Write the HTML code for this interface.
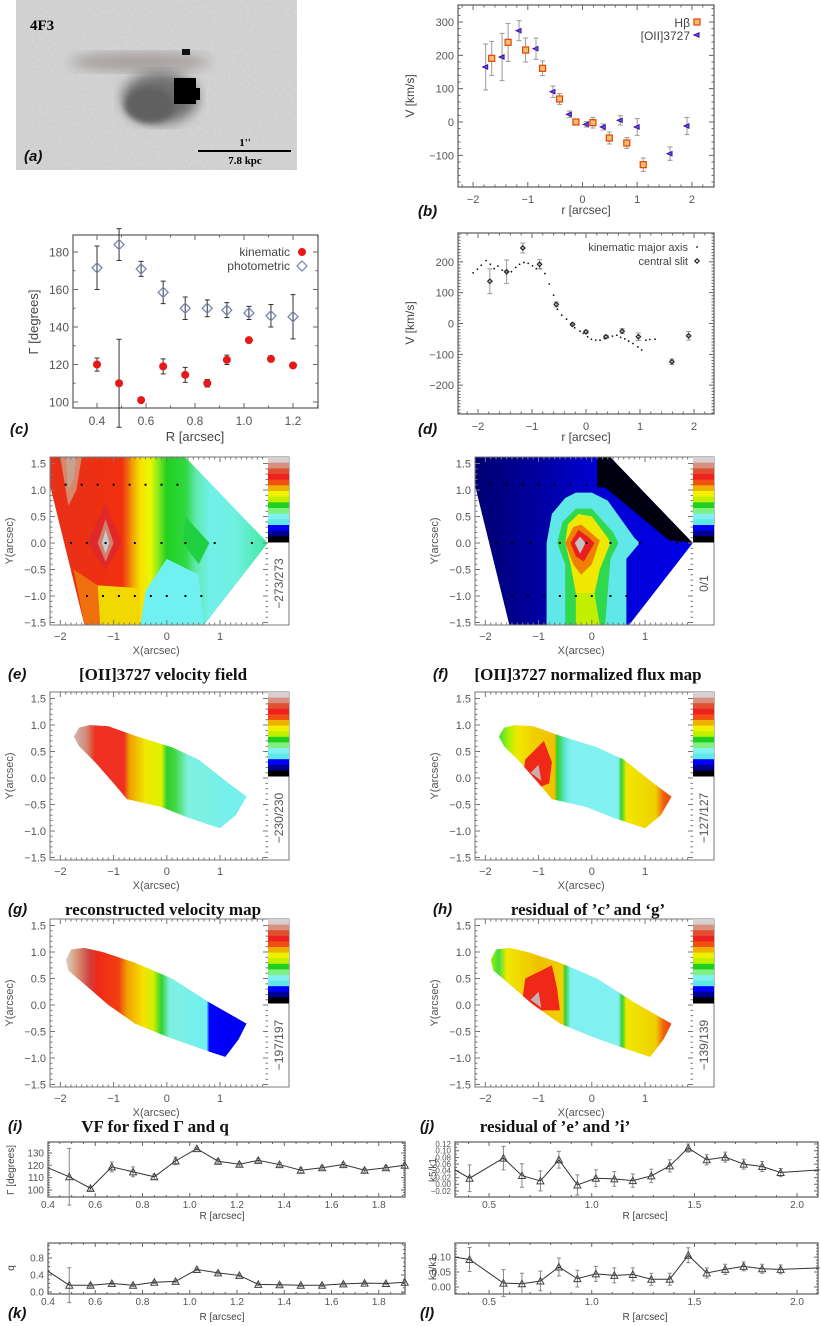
<!DOCTYPE html>
<html><head><meta charset="utf-8"><title>4F3 kinematics</title>
<style>
html,body{margin:0;padding:0;background:#fff;}
svg{display:block;}
text{font-family:"Liberation Sans",sans-serif;}
.tk{font-size:11px;fill:#555;}
.lab{font-size:12px;fill:#444;}
.pl{font-size:15px;font-weight:bold;font-style:italic;fill:#111;}
.ttl{font-family:"Liberation Serif",serif;font-size:17px;font-weight:bold;fill:#111;}
</style></head>
<body>
<svg id="fig" width="821" height="1326" viewBox="0 0 821 1326" xmlns="http://www.w3.org/2000/svg">
<defs>
<filter id="noise" x="0" y="0" width="100%" height="100%"><feTurbulence type="fractalNoise" baseFrequency="0.35" numOctaves="1" seed="3"/><feColorMatrix type="matrix" values="0 0 0 0 0.8  0 0 0 0 0.8  0 0 0 0 0.8  0 0 0 -0.9 0.55"/></filter>
<filter id="blur3"><feGaussianBlur stdDeviation="3"/></filter>
<filter id="blur6"><feGaussianBlur stdDeviation="6"/></filter>
</defs>
<g id="panel-a">
<rect x="16" y="0" width="281" height="170" fill="#d0d0d0"/>
<rect x="16" y="0" width="281" height="170" filter="url(#noise)" opacity="0.6"/>
<g>
<ellipse cx="140" cy="62" rx="70" ry="10" fill="#a8a0a0" filter="url(#blur6)"/>
<ellipse cx="160" cy="98" rx="38" ry="26" fill="#707070" filter="url(#blur6)"/>
<ellipse cx="150" cy="105" rx="25" ry="18" fill="#606060" filter="url(#blur3)"/>
<rect x="174" y="78" width="22" height="26" fill="#000"/>
<rect x="190" y="88" width="10" height="12" fill="#000"/>
<rect x="182" y="49" width="8" height="6" fill="#111"/>
</g>
<text x="30" y="30" style="font-family:'Liberation Serif',serif;font-weight:bold;font-size:15px;">4F3</text>
<text class="pl" x="24" y="161">(a)</text>
<line x1="198" y1="151" x2="291" y2="151" stroke="#000" stroke-width="2"/>
<text x="245" y="146" text-anchor="middle" style="font-family:'Liberation Serif',serif;font-weight:bold;font-size:11px;">1''</text>
<text x="245" y="164" text-anchor="middle" style="font-family:'Liberation Serif',serif;font-weight:bold;font-size:11px;">7.8 kpc</text>
</g>
</svg>
<script>
// ---------- data: panel (b) ----------
const hbR=[-1.66,-1.36,-1.04,-0.73,-0.42,-0.12,0.19,0.49,0.81,1.11];
const hbV=[191,239,216,161,69,0,-2,-48,-63,-128];
const hbE=[51,57,36,22,16,3,16,18,16,20];
const oiiR=[-1.77,-1.47,-1.16,-0.85,-0.54,-0.24,0.07,0.38,0.69,1.0,1.6,1.91];
const oiiV=[165,195,274,220,91,23,-7,-15,5,-15,-95,-12];
const oiiE=[69,71,30,32,17,10,8,9,14,25,20,26];
// ---------- data: panel (c) ----------
const cR=[0.4,0.49,0.58,0.67,0.76,0.85,0.93,1.02,1.11,1.2];
const photG=[171.6,184,171,158.5,150,150,149,147.5,146,145.5];
const photE=[11.6,8.5,4,6,6,4.5,4,3.5,6,11.8];
const kinG=[120,110,101,119,114.5,110,122.5,133,123,119.5];
const kinE=[3.5,23.5,1,4,4,2,2.5,1,1.5,1];
// ---------- data: panel (d) ----------
const majR=[-2.09,-2.01,-1.94,-1.85,-1.77,-1.70,-1.63,-1.55,-1.47,-1.38,-1.30,-1.23,-1.15,-1.07,-0.99,-0.92,-0.84,-0.76,-0.68,-0.60,-0.53,-0.45,-0.36,-0.28,-0.21,-0.11,-0.05,0.03,0.10,0.18,0.26,0.34,0.41,0.49,0.57,0.64,0.72,0.79,0.87,0.96,1.03,1.11,1.18,1.28];
const majV=[164,176,189,204,192,178,186,173,168,168,182,192,198,195,187,178,178,162,128,92,46,27,14,-2,-14,-25,-32,-43,-51,-54,-54,-49,-46,-41,-38,-45,-50,-57,-65,-76,-86,-54,-52,-51];
const slitR=[-1.78,-1.47,-1.17,-0.86,-0.55,-0.25,0,0.37,0.67,0.97,1.59,1.9];
const slitV=[137,168,245,192,62,-3,-27,-43,-25,-43,-124,-40];
const slitE=[40,38,16,15,8,4,5,4,8,12,9,14];
// ---------- data: panels (i),(k) ----------
const harmR=[0.4,0.49,0.58,0.67,0.76,0.85,0.94,1.03,1.12,1.21,1.29,1.38,1.47,1.56,1.65,1.74,1.83,1.91];
const pa=[118,110.7,101.3,118.7,114.7,110.7,123.6,133.5,123.3,120.9,124,120.6,116,118,120.6,116,118,120];
const paE=[0,23,1.5,4,4,2,3,1,1.5,1.5,1.5,1.5,2,1.5,1.5,1.5,1.5,0];
const qv=[0.49,0.16,0.16,0.2,0.16,0.23,0.25,0.53,0.45,0.39,0.18,0.17,0.16,0.16,0.19,0.21,0.2,0.23];
const qE=[0,0.41,0.04,0.03,0.03,0.03,0.03,0.03,0.03,0.03,0.03,0.03,0.03,0.03,0.03,0.03,0.03,0];
// ---------- data: panels (j),(l) ----------
const kR=[0.334,0.405,0.57,0.66,0.75,0.84,0.93,1.02,1.11,1.20,1.29,1.38,1.47,1.56,1.65,1.74,1.83,1.92,2.11];
const k5=[0.043,0.018,0.078,0.026,0.01,0.073,-0.002,0.018,0.016,0.011,0.025,0.055,0.108,0.073,0.081,0.06,0.053,0.035,0.043];
const k5E=[0,0.04,0.035,0.035,0.03,0.025,0.03,0.025,0.022,0.02,0.02,0.018,0.012,0.015,0.015,0.015,0.015,0.012,0];
const k3=[0.1,0.092,0.013,0.011,0.02,0.067,0.028,0.044,0.039,0.042,0.026,0.026,0.106,0.047,0.059,0.069,0.061,0.059,0.064];
const k3E=[0,0.04,0.045,0.035,0.033,0.03,0.028,0.025,0.025,0.022,0.02,0.02,0.025,0.017,0.017,0.015,0.015,0.015,0];

const NS="http://www.w3.org/2000/svg";
const svg=document.getElementById('fig');
function mk(tag,name,parent){
  const e=document.createElementNS(NS,tag);
  
  
  (parent||svg).appendChild(e);
  return e;
}
function txt(s,x,y,cls,name,anchor,rot){
  const t=mk('text',name);
  t.setAttribute('x',x);t.setAttribute('y',y);
  if(cls)t.setAttribute('class',cls);
  if(anchor)t.setAttribute('text-anchor',anchor);
  if(rot)t.setAttribute('transform','rotate('+rot+' '+x+' '+y+')');
  t.textContent=s;
  return t;
}
function scale(d0,d1,p0,p1){return v=>p0+(v-d0)*(p1-p0)/(d1-d0);}
function fmt(v,dec){return (v<0?'\u2212':'')+Math.abs(v).toFixed(dec);}

function axes(o){
  const X=scale(o.xd[0],o.xd[1],o.px[0],o.px[1]);
  const Y=scale(o.yd[0],o.yd[1],o.py[1],o.py[0]);
  const g=mk('g',o.name);
  const box=mk('rect',o.name+'-frame',g);
  box.setAttribute('x',o.px[0]);box.setAttribute('y',o.py[0]);
  box.setAttribute('width',o.px[1]-o.px[0]);box.setAttribute('height',o.py[1]-o.py[0]);
  box.setAttribute('fill','none');box.setAttribute('stroke','#666');box.setAttribute('stroke-width','1.3');
  let p='';
  const ml=o.major||5, mn=o.minorLen||2.5;
  for(const t of o.xt){const x=X(t);p+=`M${x} ${o.py[1]}v${-ml}M${x} ${o.py[0]}v${ml}`;}
  for(const t of o.yt){const y=Y(t);p+=`M${o.px[0]} ${y}h${ml}M${o.px[1]} ${y}h${-ml}`;}
  const xs=(o.xt[1]-o.xt[0])/o.xm;
  for(let v=o.xt[0]-xs*Math.ceil((o.xt[0]-o.xd[0])/xs);v<=o.xd[1];v+=xs){if(v<o.xd[0])continue;const x=X(v);p+=`M${x} ${o.py[1]}v${-mn}M${x} ${o.py[0]}v${mn}`;}
  const ys=(o.yt[1]-o.yt[0])/o.ym;
  for(let v=o.yt[0]-ys*Math.ceil((o.yt[0]-o.yd[0])/ys);v<=o.yd[1];v+=ys){if(v<o.yd[0])continue;const y=Y(v);p+=`M${o.px[0]} ${y}h${mn}M${o.px[1]} ${y}h${-mn}`;}
  const tk=mk('path',o.name+'-ticks',g);tk.setAttribute('d',p);tk.setAttribute('stroke','#666');tk.setAttribute('fill','none');
  const fs=o.fs||11;
  const xoff=o.xoff!==undefined?o.xoff:fs+5;
  for(const t of o.xt){const l=txt(fmt(t,o.xdec),X(t),o.py[1]+xoff,'tk','x-tick-label','middle');l.style.fontSize=fs+'px';}
  for(const t of o.yt){const l=txt(fmt(t,o.ydec),o.px[0]-4,Y(t)+(o.yfs||fs)*0.36,'tk','y-tick-label','end');l.style.fontSize=(o.yfs||fs)+'px';}
  return {X,Y,g};
}
function errbar(X,Y,x,y,e,col,name,cap){
  if(!e)return;
  const l=mk('path',name);
  const c=cap||2.5;
  l.setAttribute('d',`M${X(x)} ${Y(y-e)}V${Y(y+e)}M${X(x)-c} ${Y(y-e)}h${2*c}M${X(x)-c} ${Y(y+e)}h${2*c}`);
  l.setAttribute('stroke',col);l.setAttribute('stroke-width','1');l.setAttribute('fill','none');
}
function sq(x,y,name){const r=mk('rect',name);r.setAttribute('x',x-3);r.setAttribute('y',y-3);r.setAttribute('width',6);r.setAttribute('height',6);r.setAttribute('fill','#f0c070');r.setAttribute('stroke','#e84000');r.setAttribute('stroke-width','1.2');}
function tri(x,y,name){const r=mk('path',name);r.setAttribute('d',`M${x-3} ${y}L${x+2} ${y-2.2}L${x+2} ${y+2.2}Z`);r.setAttribute('fill','#6050f0');r.setAttribute('stroke','#4010a0');r.setAttribute('stroke-width','1');}
function dia(x,y,s,col,name,sw){const r=mk('path',name);r.setAttribute('d',`M${x} ${y-s}L${x+s} ${y}L${x} ${y+s}L${x-s} ${y}Z`);r.setAttribute('fill','none');r.setAttribute('stroke',col);r.setAttribute('stroke-width',sw||1);}
function dot(x,y,r,col,name){const c=mk('circle',name);c.setAttribute('cx',x);c.setAttribute('cy',y);c.setAttribute('r',r);c.setAttribute('fill',col);}

// ----- panel b -----
{
  const a=axes({name:'panel-b-rotation-curve',px:[458,714],py:[5,187],xd:[-2.276,2.404],yd:[-195,351],xt:[-2,-1,0,1,2],yt:[-100,0,100,200,300],xm:5,ym:5,xdec:0,ydec:0});
  hbR.forEach((r,i)=>errbar(a.X,a.Y,r,hbV[i],hbE[i],'#999','hbeta-error-bar'));
  oiiR.forEach((r,i)=>errbar(a.X,a.Y,r,oiiV[i],oiiE[i],'#999','oii-error-bar'));
  hbR.forEach((r,i)=>sq(a.X(r),a.Y(hbV[i]),'hbeta-point'));
  oiiR.forEach((r,i)=>tri(a.X(r),a.Y(oiiV[i]),'oii-point'));
  txt('H\u03B2',690,27,'lab','legend-hbeta-label','end');
  sq(697,22,'legend-hbeta-marker');
  txt('[OII]3727',690,40,'lab','legend-oii-label','end');
  tri(697,35,'legend-oii-marker');
  txt('V [km/s]',414,96,'lab','y-axis-title-b','middle',-90);
  txt('r [arcsec]',586,214,'lab','x-axis-title-b','middle');
  txt('(b)',418,216,'pl','panel-label-b');
}
// ----- panel c -----
{
  const a=axes({name:'panel-c-position-angle',px:[73,318],py:[235,408],xd:[0.302,1.302],yd:[96.8,189.1],xt:[0.4,0.6,0.8,1.0,1.2],yt:[100,120,140,160,180],xm:2,ym:2,xdec:1,ydec:0,fs:12});
  cR.forEach((r,i)=>errbar(a.X,a.Y,r,photG[i],photE[i],'#333','photometric-error-bar'));
  cR.forEach((r,i)=>errbar(a.X,a.Y,r,kinG[i],kinE[i],'#333','kinematic-error-bar'));
  cR.forEach((r,i)=>dia(a.X(r),a.Y(photG[i]),5,'#7080b0','photometric-point',1.2));
  cR.forEach((r,i)=>dot(a.X(r),a.Y(kinG[i]),4,'#e81818','kinematic-point'));
  txt('kinematic',290,256,'lab','legend-kinematic-label','end');
  dot(302,252,4,'#e81818','legend-kinematic-marker');
  txt('photometric',290,270,'lab','legend-photometric-label','end');
  dia(302,266,5,'#7080b0','legend-photometric-marker',1.2);
  txt('\u0393 [degrees]',38,322,'lab','y-axis-title-c','middle',-90).style.fontSize='13px';
  txt('R [arcsec]',195,441,'lab','x-axis-title-c','middle').style.fontSize='13px';
  txt('(c)',10,434,'pl','panel-label-c');
}
// ----- panel d -----
{
  const a=axes({name:'panel-d-velocity-comparison',px:[458,714],py:[233,414],xd:[-2.37,2.37],yd:[-293.5,293.5],xt:[-2,-1,0,1,2],yt:[-200,-100,0,100,200],xm:5,ym:10,xdec:0,ydec:0});
  majR.forEach((r,i)=>dot(a.X(r),a.Y(majV[i]),0.9,'#111','major-axis-point'));
  slitR.forEach((r,i)=>errbar(a.X,a.Y,r,slitV[i],slitE[i],'#999','slit-error-bar'));
  slitR.forEach((r,i)=>dia(a.X(r),a.Y(slitV[i]),2.2,'#222','slit-point',1.2));
  txt('kinematic major axis',688,251,'lab','legend-major-axis-label','end').style.fontSize='11px';
  dot(697,247,0.9,'#111','legend-major-axis-marker');
  txt('central slit',688,265,'lab','legend-slit-label','end').style.fontSize='11px';
  dia(697,261,2.2,'#222','legend-slit-marker',1.2);
  txt('V [km/s]',414,323,'lab','y-axis-title-d','middle',-90);
  txt('r [arcsec]',586,441,'lab','x-axis-title-d','middle');
  txt('(d)',418,434,'pl','panel-label-d');
}
// ----- harmonic panels -----
function linePanel(o,R,V,E){
  const a=axes(o);
  R.forEach((r,i)=>errbar(a.X,a.Y,r,V[i],E[i],'#888',o.name+'-error-bar',2));
  const pl=mk('polyline',o.name+'-line');
  pl.setAttribute('points',R.map((r,i)=>a.X(r)+','+a.Y(V[i])).join(' '));
  pl.setAttribute('fill','none');pl.setAttribute('stroke','#333');pl.setAttribute('stroke-width','1');
  R.forEach((r,i)=>{if(i===0||i===R.length-1&&o.skipEnds)return;const x=a.X(r),y=a.Y(V[i]);const t=mk('path',o.name+'-marker');t.setAttribute('d',`M${x} ${y-3.5}L${x+3.5} ${y+3}L${x-3.5} ${y+3}Z`);t.setAttribute('fill','none');t.setAttribute('stroke','#444');});
  return a;
}
linePanel({name:'panel-i-gamma-profile',px:[48,405],py:[1142,1197],xd:[0.4,1.911],yd:[94.3,138.9],xt:[0.4,0.6,0.8,1.0,1.2,1.4,1.6,1.8],yt:[100,110,120,130],xm:4,ym:5,xdec:1,ydec:0,fs:10,xoff:11,major:4,minorLen:2},harmR,pa,paE);
linePanel({name:'panel-k-q-profile',px:[48,405],py:[1243,1294],xd:[0.4,1.911],yd:[-0.047,1.153],xt:[0.4,0.6,0.8,1.0,1.2,1.4,1.6,1.8],yt:[0,0.4,0.8],xm:4,ym:4,xdec:1,ydec:1,fs:10,xoff:11,major:4,minorLen:2},harmR,qv,qE);
linePanel({name:'panel-j-k5-profile',px:[455,818],py:[1142,1197],xd:[0.334,2.102],yd:[-0.0379,0.126],xt:[0.5,1.0,1.5,2.0],yt:[-0.02,0,0.02,0.04,0.06,0.08,0.10,0.12],xm:5,ym:2,xdec:1,ydec:2,fs:10,yfs:8,xoff:11,major:4,minorLen:2,skipEnds:true},kR,k5,k5E);
linePanel({name:'panel-l-k3-profile',px:[455,818],py:[1243,1294],xd:[0.334,2.102],yd:[-0.0233,0.147],xt:[0.5,1.0,1.5,2.0],yt:[0,0.05,0.10],xm:5,ym:5,xdec:1,ydec:2,fs:10,xoff:11,major:4,minorLen:2,skipEnds:true},kR,k3,k3E);
txt('\u0393 [degrees]',14,1170,'lab','y-axis-title-i','middle',-90).style.fontSize='10px';
txt('q',14,1268,'lab','y-axis-title-k','middle',-90).style.fontSize='10px';
txt('k5/k1',436,1170,'lab','y-axis-title-j','middle',-90).style.fontSize='10px';
txt('k3/k1',436,1268,'lab','y-axis-title-l','middle',-90).style.fontSize='10px';
txt('R [arcsec]',222,1219,'lab','x-axis-title-i','middle').style.fontSize='10px';
txt('R [arcsec]',222,1320,'lab','x-axis-title-k','middle').style.fontSize='10px';
txt('R [arcsec]',645,1219,'lab','x-axis-title-j','middle').style.fontSize='10px';
txt('R [arcsec]',645,1320,'lab','x-axis-title-l','middle').style.fontSize='10px';
txt('(i)',8,1131,'pl','panel-label-i');
txt('VF for fixed \u0393 and q',155,1132,'ttl','title-i','middle');
txt('(j)',420,1131,'pl','panel-label-j');
txt('residual of \u2019e\u2019 and \u2019i\u2019',555,1132,'ttl','title-j','middle');
txt('(k)',8,1318,'pl','panel-label-k');
txt('(l)',420,1318,'pl','panel-label-l');

// ----- maps -----
const cbarColors=['#d8d0d0','#d89080','#e05030','#f02020','#f05010','#f0b000','#f0f000','#c0f000','#20d020','#80f080','#80f0f0','#60e8e8','#0000ff','#000090','#000000'];
const defs=svg.querySelector('defs');
let gid=0;
function mapPanel(o){
  const x0=o.ox, y0=o.oy;
  const X=scale(-2.195,1.902,x0,x0+218), Y=scale(-1.547,1.623,y0+168,y0);
  const g=mk('g',o.name);
  const pts=a=>a.map(p=>X(p[0])+','+Y(p[1])).join(' ');
  const id='clip'+(gid++);
  const cp=document.createElementNS(NS,'clipPath');cp.setAttribute('id',id);
  const cpp=document.createElementNS(NS,'polygon');cpp.setAttribute('points',pts(o.shape));cp.appendChild(cpp);defs.appendChild(cp);
  const gr=document.createElementNS(NS,'linearGradient');const gidn='grad'+(gid++);gr.setAttribute('id',gidn);
  gr.setAttribute('gradientUnits','userSpaceOnUse');gr.setAttribute('x1',X(o.stops[0][0]));gr.setAttribute('x2',X(o.stops[o.stops.length-1][0]));gr.setAttribute('y1',0);gr.setAttribute('y2',0);
  const span=o.stops[o.stops.length-1][0]-o.stops[0][0];
  o.stops.forEach(s=>{const st=document.createElementNS(NS,'stop');st.setAttribute('offset',(s[0]-o.stops[0][0])/span);st.setAttribute('stop-color',s[1]);gr.appendChild(st);});
  defs.appendChild(gr);
  const inner=mk('g',o.name+'-field',g);inner.setAttribute('clip-path','url(#'+id+')');
  const base=mk('polygon',o.name+'-fill',inner);base.setAttribute('points',pts(o.shape));base.setAttribute('fill','url(#'+gidn+')');
  (o.blobs||[]).forEach(b=>{const p=mk('polygon',o.name+'-contour',inner);p.setAttribute('points',pts(b[0]));p.setAttribute('fill',b[1]);});
  (o.dots||[]).forEach(d=>{const c=mk('rect',o.name+'-grid-point',g);c.setAttribute('x',X(d[0])-1);c.setAttribute('y',Y(d[1])-1);c.setAttribute('width',2);c.setAttribute('height',2);c.setAttribute('fill','#000');});
  const fr=mk('rect',o.name+'-frame',g);fr.setAttribute('x',x0);fr.setAttribute('y',y0);fr.setAttribute('width',239);fr.setAttribute('height',168);fr.setAttribute('fill','none');fr.setAttribute('stroke','#777');
  let p='';
  for(let v=-2;v<=1.9;v+=0.1){const x=X(v);const big=Math.abs(v-Math.round(v))<0.01;p+=`M${x} ${y0+168}v${big?-5:-2.5}M${x} ${y0}v${big?5:2.5}`;}
  for(let v=-1.5;v<=1.6;v+=0.1){const y=Y(v);const big=Math.abs(v*2-Math.round(v*2))<0.01;p+=`M${x0} ${y}h${big?5:2.5}M${x0+218} ${y}h${big?-5:-2.5}`;}
  const tk=mk('path',o.name+'-ticks',g);tk.setAttribute('d',p);tk.setAttribute('stroke','#777');tk.setAttribute('fill','none');
  [-2,-1,0,1].forEach(v=>txt(fmt(v,0),X(v),y0+183,'tk','x-tick-label','middle'));
  [-1.5,-1,-0.5,0,0.5,1,1.5].forEach(v=>txt(fmt(v,1),x0-4,Y(v)+4,'tk','y-tick-label','end'));
  txt('X(arcsec)',X(-0.2),y0+197,'tk','x-axis-title','middle');
  txt('Y(arcsec)',x0-37,y0+84,'tk','y-axis-title','middle',-90);
  const cb=mk('g',o.name+'-colorbar',g);
  const ch=o.cbh/cbarColors.length;
  cbarColors.forEach((c,i)=>{const r=mk('rect','colorbar-swatch',cb);r.setAttribute('x',x0+218);r.setAttribute('y',y0+i*ch);r.setAttribute('width',21);r.setAttribute('height',ch+0.5);r.setAttribute('fill',c);});
  txt(o.range,x0+233,y0+o.cbh+(168-o.cbh)/2,'tk','colorbar-range-label','middle',-90).style.fontSize='12px';
  if(o.label)txt(o.label,o.ox-42,y0+222,'pl','panel-label-'+o.letter);
  if(o.title)txt(o.title,x0+113,y0+223,'ttl','map-title-'+o.letter,'middle');
}
const eShape=[[-2.2,1.62],[0.35,1.62],[1.9,0.0],[0.7,-1.55],[-1.55,-1.55],[-2.2,1.1]];
const gShape=[[-1.75,0.78],[-1.65,0.95],[-1.45,1.0],[-1.1,0.98],[-0.6,0.8],[0.1,0.58],[0.6,0.35],[1.1,-0.05],[1.5,-0.35],[1.3,-0.7],[1.0,-0.95],[0.4,-0.75],[-0.1,-0.55],[-0.75,-0.4],[-1.0,-0.1],[-1.35,0.3],[-1.65,0.6]];
const iShape=[[-1.9,0.85],[-1.8,1.05],[-1.55,1.08],[-1.2,1.0],[-0.6,0.8],[0.1,0.5],[0.8,0.05],[1.5,-0.35],[1.35,-0.65],[1.1,-0.98],[0.7,-0.85],[0.0,-0.6],[-0.6,-0.35],[-1.1,0.0],[-1.5,0.35],[-1.85,0.65]];
const dotsE=[];[-1.9,-1.6,-1.3,-1.0,-0.7,-0.4,-0.1,0.2].forEach(x=>dotsE.push([x,1.1]));[-1.8,-1.5,-1.15,-0.6,-0.1,0.35,0.9,1.6].forEach(x=>dotsE.push([x,0]));[-1.5,-1.2,-0.9,-0.6,-0.3,0.0,0.35,0.65].forEach(x=>dotsE.push([x,-1.0]));
mapPanel({name:'panel-e-velocity-field',letter:'e',ox:50,oy:457,cbh:85,range:'\u2212273/273',label:'(e)',title:'[OII]3727 velocity field',shape:eShape,dots:dotsE,
 stops:[[-2.2,'#e83018'],[-0.85,'#f03010'],[-0.75,'#f06010'],[-0.65,'#f0a000'],[-0.5,'#f8e000'],[-0.3,'#e8f800'],[-0.15,'#80e820'],[0,'#20d020'],[0.35,'#30d840'],[0.55,'#60e8b0'],[0.8,'#70f0e8'],[1.3,'#70f0e0'],[1.9,'#40e8a0']],
 blobs:[[[[-2.0,1.62],[-1.6,1.62],[-1.7,1.0],[-1.85,0.7]],'#d88868'],[[[-1.9,1.62],[-1.7,1.62],[-1.75,1.2],[-1.85,1.0]],'#c8a090'],
  [[[-1.75,-0.5],[-1.3,-0.8],[-1.2,-1.55],[-1.55,-1.55]],'#f07010'],[[[-1.3,-0.8],[-0.55,-0.85],[-0.55,-1.55],[-1.25,-1.55]],'#f0d800'],
  [[[-0.5,-1.55],[0.7,-1.55],[0.6,-0.6],[0.0,-0.3],[-0.4,-0.9]],'#70f0f0'],[[[0.35,0.5],[0.8,0.0],[0.6,-0.4],[0.3,0.0]],'#20d040'],
  [[[-1.5,0],[-1.15,0.75],[-0.85,0],[-1.15,-0.5]],'#e02828'],[[[-1.3,0],[-1.15,0.45],[-1.0,0],[-1.15,-0.35]],'#d08070'],[[[-1.22,0],[-1.15,0.25],[-1.08,0],[-1.15,-0.2]],'#c8c8c8']]});
mapPanel({name:'panel-f-flux-map',letter:'f',ox:475,oy:457,cbh:85,range:'0/1',label:'(f)',title:'[OII]3727 normalized flux map',shape:eShape,dots:dotsE,
 stops:[[-2.2,'#000070'],[-1.0,'#0000a0'],[0.0,'#0000d0'],[1.9,'#0000e8']],
 blobs:[[[[0.1,1.62],[0.35,1.62],[1.9,0],[1.45,0.05],[0.25,1.05],[0.1,1.05]],'#000010'],
  [[[-0.85,0],[-0.75,0.55],[-0.5,0.85],[-0.3,0.95],[0,0.95],[0.3,0.8],[0.8,0.1],[0.9,0],[0.65,-0.3],[0.65,-1.55],[-0.85,-1.55]],'#60e8e8'],
  [[[-0.65,0],[-0.55,0.4],[-0.3,0.65],[0,0.65],[0.4,0.2],[0.5,0],[0.35,-0.3],[0.25,-1.55],[-0.5,-1.55],[-0.5,-0.4]],'#30d850'],
  [[[-0.5,0],[-0.45,0.35],[-0.25,0.55],[0,0.5],[0.3,0.1],[0.35,0],[0.15,-0.5],[0.05,-0.95],[-0.3,-0.95],[-0.4,-0.4]],'#f0e800'],
  [[[-0.3,-0.95],[0.05,-0.95],[0.15,-1.55],[-0.3,-1.55]],'#c0f000'],
  [[[-0.5,0],[-0.35,0.3],[-0.2,0.35],[0.15,0.05],[0,-0.4],[-0.2,-0.6],[-0.35,-0.4]],'#f08000'],
  [[[-0.4,0],[-0.25,0.25],[-0.05,0.1],[0.05,0],[-0.15,-0.35],[-0.3,-0.25]],'#e82020'],
  [[[-0.32,0],[-0.22,0.12],[-0.12,0],[-0.22,-0.2]],'#c8c0c0']]});
mapPanel({name:'panel-g-velocity-map',letter:'g',ox:50,oy:692,cbh:84,range:'\u2212230/230',label:'(g)',title:'reconstructed velocity map',shape:gShape,
 stops:[[-1.75,'#d0b8b8'],[-1.5,'#d08870'],[-1.35,'#f03020'],[-0.8,'#f03020'],[-0.7,'#f0a000'],[-0.4,'#f0e800'],[-0.1,'#e0f000'],[0,'#30d030'],[0.15,'#40d840'],[0.4,'#80f0e0'],[1.5,'#70f0f0']]});
mapPanel({name:'panel-h-residual-map',letter:'h',ox:475,oy:692,cbh:84,range:'\u2212127/127',label:'(h)',title:'residual of \u2019c\u2019 and \u2018g\u2019',shape:gShape,
 stops:[[-1.75,'#40e040'],[-1.55,'#b0f000'],[-1.4,'#f0e800'],[-1.1,'#f0d000'],[-0.7,'#f0c000'],[-0.65,'#30d030'],[-0.5,'#60e8d0'],[-0.4,'#80f0f0'],[0.5,'#80f0f0'],[0.55,'#30d030'],[0.65,'#f0e800'],[1.2,'#f0d000'],[1.35,'#f06010'],[1.5,'#f04010']],
 blobs:[[[[-1.25,0.35],[-0.9,0.7],[-0.75,0.3],[-0.8,-0.1],[-1.05,-0.2],[-1.3,0.0]],'#f02818'],[[[-1.15,0.1],[-1.0,0.25],[-0.95,-0.05]],'#c8b0b0']]});
mapPanel({name:'panel-i-model-velocity-map',letter:'i',ox:50,oy:919,cbh:84,range:'\u2212197/197',label:'',title:'',shape:iShape,
 stops:[[-1.9,'#e0d0d0'],[-1.7,'#d89878'],[-1.45,'#d04040'],[-1.3,'#f02818'],[-0.9,'#f04010'],[-0.75,'#f0a000'],[-0.45,'#f8e000'],[-0.25,'#d0f000'],[-0.1,'#30d030'],[0.05,'#80f0e0'],[0.75,'#70f0f0'],[0.8,'#0000ff'],[1.5,'#0000f0']]});
mapPanel({name:'panel-j-residual-map',letter:'j',ox:475,oy:919,cbh:84,range:'\u2212139/139',label:'',title:'',shape:iShape,
 stops:[[-1.9,'#a0f000'],[-1.75,'#40e040'],[-1.6,'#f0e800'],[-1.0,'#f0c000'],[-0.55,'#f0d000'],[-0.5,'#30d030'],[-0.4,'#80f0f0'],[0.5,'#80f0f0'],[0.57,'#30d030'],[0.65,'#f0e800'],[1.2,'#f0d000'],[1.35,'#f06010'],[1.5,'#f04010']],
 blobs:[[[[-1.25,0.5],[-0.75,0.75],[-0.65,0.3],[-0.6,-0.1],[-0.95,-0.1],[-1.3,0.15]],'#f02818'],[[[-1.15,0.1],[-1.0,0.25],[-0.95,-0.05]],'#c8b0b0']]});
</script>
</body></html>
